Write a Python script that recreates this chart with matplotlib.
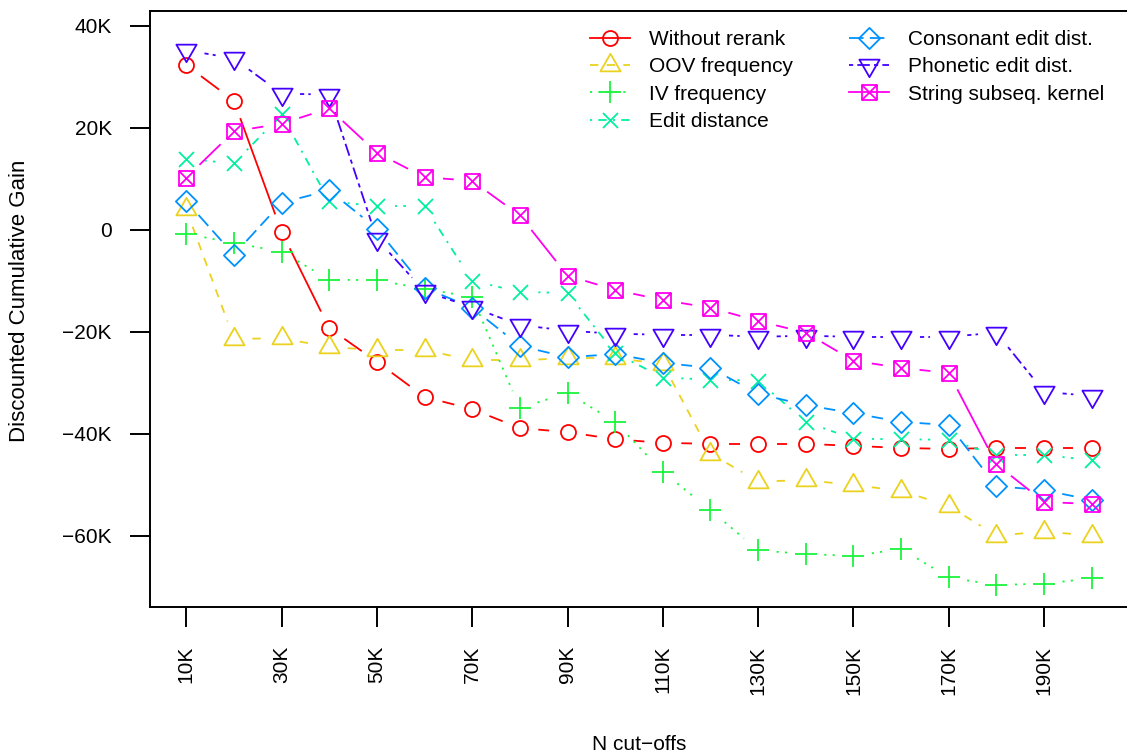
import numpy as np
import matplotlib
matplotlib.use("Agg")
import matplotlib.pyplot as plt
from matplotlib.path import Path
from matplotlib.lines import Line2D
from matplotlib.collections import LineCollection

plt.rcParams["font.family"] = ["Liberation Sans", "DejaVu Sans"]
plt.rcParams["lines.scale_dashes"] = False

# ----------------------------
# data (values in thousands)
# ----------------------------
cutoffs = np.arange(10, 201, 10)

without_rerank = [32.3, 25.3, -0.4, -19.3, -25.9, -32.8, -35.2, -38.9, -39.7, -41.1,
                  -41.8, -42.0, -42.0, -42.0, -42.4, -42.8, -43.0, -42.8, -42.8, -42.8]
oov_freq = [4.0, -21.4, -21.3, -23.0, -23.6, -23.6, -25.6, -25.6, -25.2, -25.2,
            -26.3, -43.9, -49.4, -49.1, -50.1, -51.2, -54.2, -60.0, -59.2, -60.0]
iv_freq = [-0.8, -2.6, -4.3, -9.8, -9.9, -11.6, -13.2, -35.0, -32.0, -37.7,
           -47.5, -55.0, -62.9, -63.6, -64.0, -62.6, -68.2, -69.7, -69.4, -68.4]
edit_dist = [13.9, 13.0, 22.6, 5.6, 4.6, 4.6, -10.0, -12.2, -12.4, -24.2,
             -29.0, -29.4, -29.6, -37.7, -41.0, -41.1, -41.2, -44.2, -44.2, -45.2]
consonant_edit = [5.6, -4.9, 5.3, 7.7, 0.2, -11.4, -15.3, -22.8, -25.0, -24.4,
                  -26.1, -27.1, -32.2, -34.4, -36.0, -37.7, -38.3, -50.3, -51.1, -53.0]
phonetic_edit = [35.2, 33.6, 26.7, 26.5, -1.8, -12.1, -15.2, -18.7, -19.8, -20.4,
                 -20.6, -20.6, -21.0, -20.8, -21.0, -21.0, -21.0, -20.2, -31.8, -32.6]
string_kernel = [10.2, 19.3, 20.8, 23.8, 15.1, 10.3, 9.6, 2.8, -9.0, -11.8,
                 -13.8, -15.3, -17.9, -20.2, -25.7, -27.1, -28.1, -46.0, -53.4, -53.8]

labels = ["Without rerank", "OOV frequency", "IV frequency", "Edit distance",
          "Consonant edit dist.", "Phonetic edit dist.", "String subseq. kernel"]
series = [without_rerank, oov_freq, iv_freq, edit_dist,
          consonant_edit, phonetic_edit, string_kernel]
colors = ["#FF0000", "#EBD21E", "#19F53C", "#00F0A0", "#0092FF", "#4400FF", "#FF00EE"]

x_ticks = np.arange(10, 191, 20)
y_ticks = [40, 20, 0, -20, -40, -60]

# ----------------------------
# R-like styles
# ----------------------------
LW = 1.3          # line width, pt
u = 1.5           # dash unit, pt
ltys = ["-", (0, (4 * u, 4 * u)), (0, (1 * u, 3 * u)), (0, (1 * u, 3 * u, 4 * u, 3 * u)),
        (0, (7 * u, 3 * u)), (0, (2 * u, 2 * u, 6 * u, 2 * u)), "-"]

U = 5.4           # R symbol radius, pt
M, L, C = Path.MOVETO, Path.LINETO, Path.CLOSEPOLY


def tri(sign):
    v = [(0, 1.555 * sign), (1.347, -0.778 * sign), (-1.347, -0.778 * sign), (0, 0)]
    return Path(v, [M, L, L, C])


s = 1.0
pch = [
    ("o", 2 * U),
    (tri(1), 2 * 1.555 * U),
    (Path([(-1.414, 0), (1.414, 0), (0, -1.414), (0, 1.414)], [M, L, M, L]), 2 * 1.414 * U),
    (Path([(-1, -1), (1, 1), (-1, 1), (1, -1)], [M, L, M, L]), 2 * U),
    (Path([(0, 1.414), (1.414, 0), (0, -1.414), (-1.414, 0), (0, 0)], [M, L, L, L, C]), 2 * 1.414 * U),
    (tri(-1), 2 * 1.555 * U),
    (Path([(-s, -s), (s, -s), (s, s), (-s, s), (0, 0), (-s, -s), (s, s), (-s, s), (s, -s)],
          [M, L, L, L, C, M, L, M, L]), 2 * s * U),
]

GAP = 18.5  # px gap around points (type = "b")

# ----------------------------
# plot
# ----------------------------
fig = plt.figure(figsize=(11.27, 7.55), dpi=100)
ax = fig.add_axes([150 / 1127, 1 - 607 / 755, 978 / 1127, 596 / 755])
ax.set_xlim(2.4, 207.6)
ax.set_ylim(-74.0, 42.9)

handles = []
for vals, col, ls, (mk, ms), lab in zip(series, colors, ltys, pch, labels):
    pts = ax.transData.transform(np.column_stack([cutoffs, vals]))
    inv = ax.transData.inverted()
    segs = []
    for p0, p1 in zip(pts[:-1], pts[1:]):
        d = p1 - p0
        dist = np.hypot(*d)
        if dist > 2 * GAP:
            e = d / dist
            segs.append(inv.transform([p0 + e * GAP, p1 - e * GAP]))
    ax.add_collection(LineCollection(segs, colors=col, linewidths=LW, linestyles=ls))
    ax.plot(cutoffs, vals, linestyle="none", marker=mk, markersize=ms,
            markerfacecolor="none", markeredgecolor=col, markeredgewidth=LW)
    handles.append(Line2D([], [], color=col, linestyle=ls, linewidth=LW, marker=mk,
                          markersize=ms, markerfacecolor="none", markeredgecolor=col,
                          markeredgewidth=LW))

ax.set_xticks(x_ticks)
ax.set_xticklabels([f"{v}K" for v in x_ticks], rotation=90)
ax.set_yticks(y_ticks)
ax.set_yticklabels([f"{v}K".replace("-", "\u2212") if v != 0 else "0" for v in y_ticks])
ax.tick_params(axis="both", length=14.4, width=1.4, labelsize=15, direction="out")
ax.tick_params(axis="y", pad=13)
ax.tick_params(axis="x", pad=13.5)
for sp in ax.spines.values():
    sp.set_linewidth(1.4)

ax.set_xlabel("N cut\u2212offs", fontsize=15, va="center")
ax.xaxis.set_label_coords(0.5, (607 - 744) / 596)
ax.set_ylabel("Discounted Cumulative Gain", fontsize=16, va="center")
ax.yaxis.set_label_coords((20 - 150) / 978, 0.513)

ax.legend(handles, labels, ncol=2, loc="upper left", frameon=False, fontsize=15,
          bbox_to_anchor=(590 / 1127, 1 - 30 / 755), bbox_transform=fig.transFigure,
          borderpad=0, borderaxespad=0, handlelength=1.92, handletextpad=0.9,
          columnspacing=2.7, labelspacing=0.4)

fig.savefig("out.png", dpi=100)
